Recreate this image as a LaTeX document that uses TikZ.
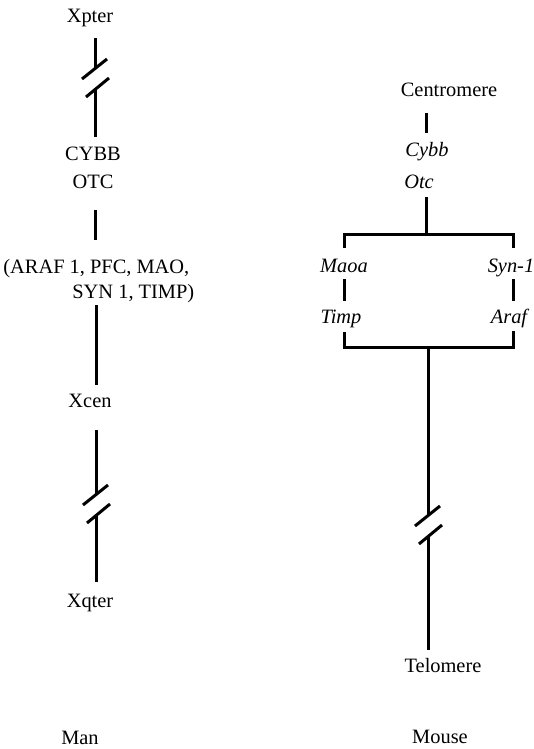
\documentclass[tikz,border=0pt]{standalone}
\usepackage{fontspec}
\setmainfont{Liberation Serif}
\begin{document}
\begin{tikzpicture}[x=0.5pt,y=-0.5pt,
  lbl/.style={inner sep=0pt,anchor=base,font=\fontsize{10.2}{12}\selectfont},
  gene/.style={lbl,font=\fontsize{10.2}{12}\selectfont\itshape},
  chrom/.style={line width=1.5pt},
  brk/.pic={\draw[chrom] (-13,2)--(12,-18); \draw[chrom] (-9,20)--(14,1);}]
\useasboundingbox (0,0) rectangle (534,749);
% ---------- Man ----------
\node[lbl] (xpter) at (90,23) {Xpter};
\node[lbl] (cybbH) at (93,160) {CYBB};
\node[lbl] (otcH)  at (93,188) {OTC};
\node[lbl,anchor=base west] (grp1) at (3,273) {(ARAF 1, PFC, MAO,};
\node[lbl,anchor=base west] (grp2) at (72,298) {SYN 1, TIMP)};
\node[lbl] (xcen)  at (90,407) {Xcen};
\node[lbl] (xqter) at (90,607) {Xqter};
\node[lbl] (man)   at (80,744) {Man};
\coordinate (a1) at (95,38);  \coordinate (a2) at (95,69);
\coordinate (a3) at (95,89);  \coordinate (a4) at (95,137);
\pic at (95,77) {brk};
\draw[chrom] (a1) -- (a2);
\draw[chrom] (a3) -- (a4);
\coordinate (b1) at (95,210); \coordinate (b2) at (95,240);
\draw[chrom] (b1) -- (b2);
\coordinate (c1) at (96,305); \coordinate (c2) at (96,385);
\draw[chrom] (c1) -- (c2);
\coordinate (d1) at (96,430); \coordinate (d2) at (96,495);
\coordinate (d3) at (96,515); \coordinate (d4) at (96,582);
\pic at (96,503) {brk};
\draw[chrom] (d1) -- (d2);
\draw[chrom] (d3) -- (d4);
% ---------- Mouse ----------
\node[lbl]  (centro) at (449,97) {Centromere};
\node[gene] (cybbM)  at (427,156) {Cybb};
\node[gene] (otcM)   at (419,188) {Otc};
\node[gene] (maoa)   at (344,272) {Maoa};
\node[gene] (syn)    at (511,272) {Syn-1};
\node[gene] (timp)   at (341,323) {Timp};
\node[gene] (araf)   at (509,323) {Araf};
\node[lbl]  (telo)   at (443,672) {Telomere};
\node[lbl]  (mouse)  at (440,743) {Mouse};
\coordinate (e1) at (426,113); \coordinate (e2) at (426,133);
\draw[chrom] (e1) -- (e2);
\coordinate (f1) at (426,197); \coordinate (f2) at (426,234);
\draw[chrom] (f1) -- (f2);
\coordinate (tl) at (344,248); \coordinate (tr) at (513,248);
\draw[chrom] (tl) -- (344,234) -- (513,234) -- (tr);
\coordinate (g1) at (344,279); \coordinate (g2) at (344,301);
\draw[chrom] (g1) -- (g2);
\coordinate (h1) at (513,279); \coordinate (h2) at (513,301);
\draw[chrom] (h1) -- (h2);
\coordinate (bl) at (344,332); \coordinate (br) at (513,331);
\draw[chrom] (bl) -- (344,347) -- (513,347) -- (br);
\coordinate (k1) at (428,347); \coordinate (k2) at (428,516);
\coordinate (k3) at (428,536); \coordinate (k4) at (428,650);
\pic at (428,524) {brk};
\draw[chrom] (k1) -- (k2);
\draw[chrom] (k3) -- (k4);
\end{tikzpicture}
\end{document}
